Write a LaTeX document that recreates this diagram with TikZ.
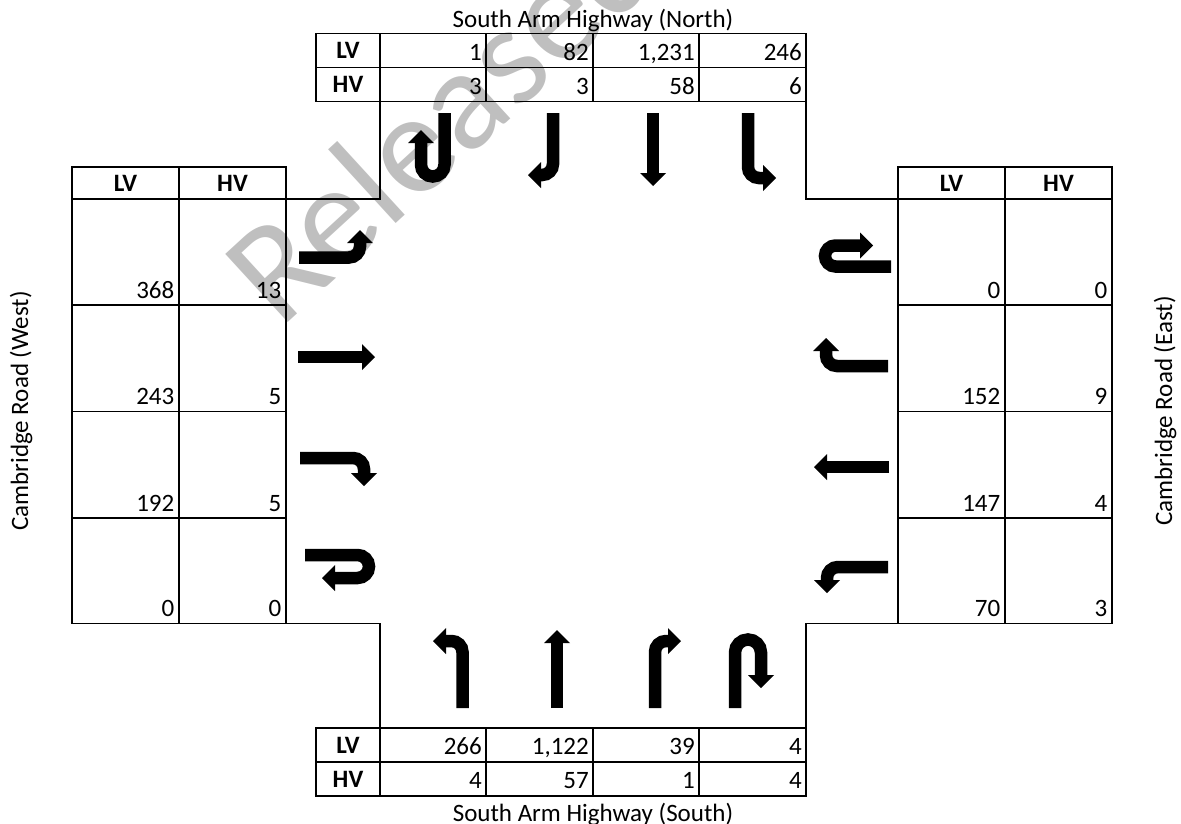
\documentclass[tikz,border=0pt]{standalone}
\usepackage{fontspec}
\setmainfont{Carlito}
\usetikzlibrary{arrows.meta}
\begin{document}
\begin{tikzpicture}[x=1pt,y=-1pt,
  grid/.style={line width=1.8pt, line cap=rect},
  num/.style={anchor=base east, inner sep=0pt, font=\fontsize{25}{29}\selectfont},
  hdr/.style={anchor=center, inner sep=0pt, font=\fontsize{25}{29}\selectfont\bfseries},
  title/.style={anchor=base, inner sep=0pt, font=\fontsize{25}{29}\selectfont},
  mv/.style={line width=12.5pt, -{Triangle[width=26pt,length=13pt,line width=0pt]}, rounded corners=11pt},
  wm/.style={rotate=42.5, anchor=base west, inner sep=0pt, font=\fontsize{144}{144}\selectfont, text=black, text opacity=0.25},
]
\fill[white] (0,0) rectangle (1181,823);
\useasboundingbox (0,0) rectangle (1181,823);

% ---------- North table ----------
\node[title] (tN) at (593,27) {South Arm Highway (North)};
\draw[grid] (316,33.5) rectangle (806,101.5);
\draw[grid] (316,67.5) -- (806,67.5);
\foreach \x in {380,486,593,699} \draw[grid] (\x,33.5) -- (\x,101.5);
\node[hdr] (nLVh) at (348,50.5) {LV};
\node[hdr] (nHVh) at (348,84.5) {HV};
\node[num] (nL1) at (482,60) {1};
\node[num] (nL2) at (589,60) {82};
\node[num] (nL3) at (695,60) {1,231};
\node[num] (nL4) at (802,60) {246};
\node[num] (nH1) at (482,94) {3};
\node[num] (nH2) at (589,94) {3};
\node[num] (nH3) at (695,94) {58};
\node[num] (nH4) at (802,94) {6};

% ---------- intersection outline ----------
\draw[grid] (380,101.5) -- (380,199) -- (286,199);
\draw[grid] (806,101.5) -- (806,199) -- (898,199);
\draw[grid] (286,623.5) -- (380,623.5) -- (380,728);
\draw[grid] (898,623.5) -- (806,623.5) -- (806,728);

% ---------- West table ----------
\draw[grid] (72,167) rectangle (286,623.5);
\draw[grid] (179,167) -- (179,623.5);
\foreach \y in {199,305,411.5,518} \draw[grid] (72,\y) -- (286,\y);
\node[hdr] (wLVh) at (125.5,183) {LV};
\node[hdr] (wHVh) at (232.5,183) {HV};
\node[num] (wL1) at (174.5,298) {368};   \node[num] (wH1) at (281.5,298) {13};
\node[num] (wL2) at (174.5,404.5) {243}; \node[num] (wH2) at (281.5,404.5) {5};
\node[num] (wL3) at (174.5,511) {192};   \node[num] (wH3) at (281.5,511) {5};
\node[num] (wL4) at (174.5,616.5) {0};   \node[num] (wH4) at (281.5,616.5) {0};
\node[title, rotate=90] (tW) at (28,411) {Cambridge Road (West)};

% ---------- East table ----------
\draw[grid] (898,167) rectangle (1112,623.5);
\draw[grid] (1005,167) -- (1005,623.5);
\foreach \y in {199,305,411.5,518} \draw[grid] (898,\y) -- (1112,\y);
\node[hdr] (eLVh) at (951.5,183) {LV};
\node[hdr] (eHVh) at (1058.5,183) {HV};
\node[num] (eL1) at (1000.5,298) {0};     \node[num] (eH1) at (1107.5,298) {0};
\node[num] (eL2) at (1000.5,404.5) {152}; \node[num] (eH2) at (1107.5,404.5) {9};
\node[num] (eL3) at (1000.5,511) {147};   \node[num] (eH3) at (1107.5,511) {4};
\node[num] (eL4) at (1000.5,616.5) {70};  \node[num] (eH4) at (1107.5,616.5) {3};
\node[title, rotate=90] (tE) at (1172,411) {Cambridge Road (East)};

% ---------- South table ----------
\draw[grid] (316,728) rectangle (806,796);
\draw[grid] (316,762) -- (806,762);
\foreach \x in {380,486,593,699} \draw[grid] (\x,728) -- (\x,796);
\node[hdr] (sLVh) at (348,745) {LV};
\node[hdr] (sHVh) at (348,779) {HV};
\node[num] (sL1) at (482,754.5) {266};
\node[num] (sL2) at (589,754.5) {1,122};
\node[num] (sL3) at (695,754.5) {39};
\node[num] (sL4) at (802,754.5) {4};
\node[num] (sH1) at (482,788.5) {4};
\node[num] (sH2) at (589,788.5) {57};
\node[num] (sH3) at (695,788.5) {1};
\node[num] (sH4) at (802,788.5) {4};
\node[title] (tS) at (593,821) {South Arm Highway (South)};

% ---------- movement arrows ----------
% north approach
\draw[mv, rounded corners=11.75pt] (444.5,113) -- (444.5,176.5) -- (421,176.5) -- (421,130);
\draw[mv] (553,113) -- (553,175) -- (528,175);
\draw[mv] (653,113) -- (653,186);
\draw[mv] (748,113) -- (748,178) -- (776,178);
% south approach
\draw[mv] (462.5,708) -- (462.5,641) -- (433,641);
\draw[mv] (557,708) -- (557,630);
\draw[mv] (655,708) -- (655,641) -- (681,641);
\draw[mv, rounded corners=13pt] (735,708) -- (735,639.5) -- (761,639.5) -- (761,688);
% west approach
\draw[mv] (299,257.5) -- (360,257.5) -- (360,230);
\draw[mv] (298,357) -- (375,357);
\draw[mv] (300,458) -- (364,458) -- (364,486);
\draw[mv, rounded corners=11.5pt] (305,555) -- (369,555) -- (369,578) -- (322,578);
% east approach
\draw[mv, rounded corners=10.5pt] (891,266.5) -- (825,266.5) -- (825,245.5) -- (873,245.5);
\draw[mv] (888,366) -- (826,366) -- (826,338);
\draw[mv] (889,467) -- (814,467);
\draw[mv] (888,567) -- (827,567) -- (827,593);

% ---------- watermark ----------
\begin{scope}
\clip (0,0) rectangle (1181,823);
\node[wm] (wmk) at (280,330) {Released};
\end{scope}
\end{tikzpicture}
\end{document}
